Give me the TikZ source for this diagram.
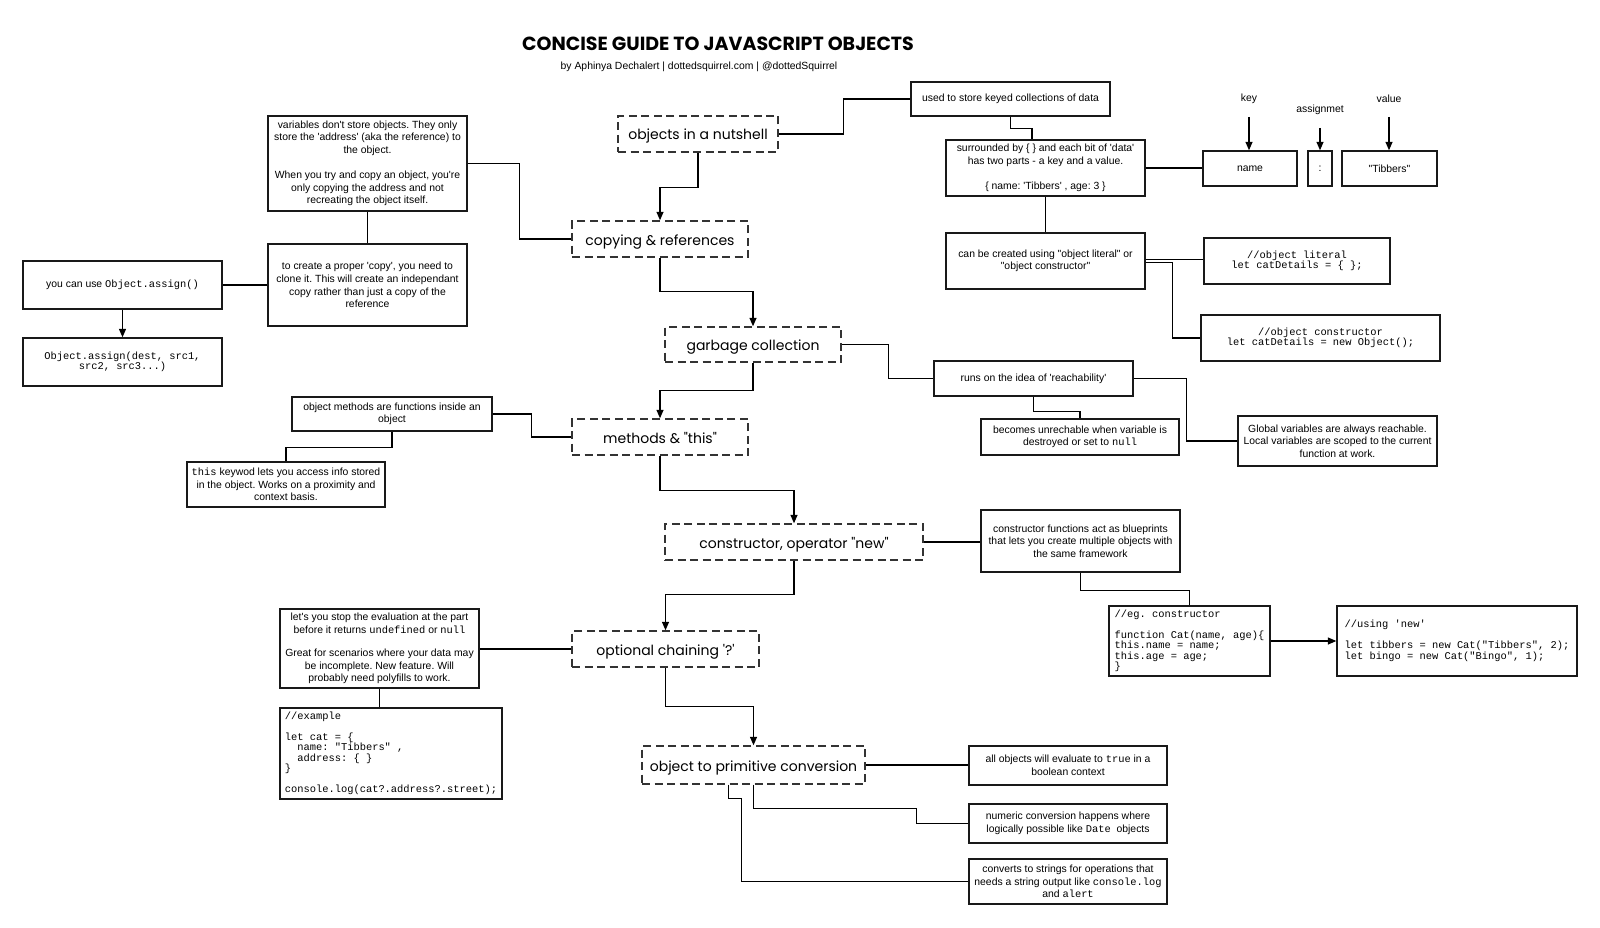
\documentclass[tikz,border=0pt]{standalone}
\usepackage{fontspec}
\setmainfont{Liberation Sans}[Ligatures=TeXOff]
\setmonofont{Liberation Mono}[Ligatures=TeXOff]
\newfontfamily\dashfont{Poppins}[Ligatures=TeXOff]
\newfontfamily\titlefont{Poppins}
\usetikzlibrary{arrows.meta}
\newcommand\mybody{\fontsize{10.4}{12.6}\selectfont}
\newcommand\mycode{\ttfamily\fontsize{10.4}{10.5}\selectfont}
\tikzset{
  box/.style={draw=black!90, line width=1.4pt, inner sep=2pt, align=center, font=\mybody},
  code/.style={box, font=\mycode},
  codel/.style={box, font=\mycode, align=left},
  dbox/.style={draw=black!80, line width=1.4pt, dash pattern=on 8pt off 4.5pt,
    font=\dashfont\fontsize{14}{16}\selectfont, inner sep=2pt, text height=12pt, text depth=0pt},
  conn/.style={line width=1.3pt},
  arr/.style={conn, -{Triangle[width=7pt,length=8.5pt]}},
  lbl/.style={font=\mybody, inner sep=0pt}
}
\begin{document}
\frenchspacing
\begin{tikzpicture}[x=1pt,y=-1pt]
\fill[white] (0,0) rectangle (1600,928);
\useasboundingbox (0,0) rectangle (1600,928);

% title
\node[font=\titlefont\bfseries\fontsize{19}{21}\selectfont] (title) at (718,44) {CONCISE GUIDE TO JAVASCRIPT OBJECTS};
\node[lbl] (sub) at (699,67) {by Aphinya Dechalert | dottedsquirrel.com | @dottedSquirrel};

% dashed main topics
\node[dbox, minimum width=160pt, minimum height=36pt] (nut) at (698,134) {objects in a nutshell};
\node[dbox, minimum width=176pt, minimum height=36pt] (copyref) at (660,239) {copying \& references};
\node[dbox, minimum width=176pt, minimum height=35pt] (gc) at (753,344.5) {garbage collection};
\node[dbox, minimum width=176pt, minimum height=36pt] (methods) at (660,437) {methods \& "this"};
\node[dbox, minimum width=258pt, minimum height=36pt] (ctorop) at (794,542) {constructor, operator "new"};
\node[dbox, minimum width=187pt, minimum height=36pt] (optional) at (665.5,649) {optional chaining '?'};
\node[dbox, minimum width=223pt, minimum height=38pt] (prim) at (753.5,765) {object to primitive conversion};

% nutshell branch
\node[box, minimum width=199pt, minimum height=34pt] (used) at (1010.5,99) {used to store keyed collections of data};
\node[box, minimum width=199pt, minimum height=56pt] (surr) at (1045.5,168) {surrounded by \{ \} and each bit of 'data'\\has two parts - a key and a value.\\[12.6pt]\{ name: 'Tibbers' , age: 3 \}};
\node[box, minimum width=94pt, minimum height=35pt] (name) at (1250,168.5) {name};
\node[box, minimum width=24pt, minimum height=35pt] (colon) at (1320,168.5) {:};
\node[box, minimum width=95pt, minimum height=35pt] (tib) at (1389.5,168.5) {"Tibbers"};
\node[lbl] (key) at (1249,99) {key};
\node[lbl] (asg) at (1320,110) {assignmet};
\node[lbl] (val) at (1389,99) {value};
\coordinate (keyA) at (1249,117);
\coordinate (asgA) at (1320,128);
\coordinate (valA) at (1389,117);
\node[box, minimum width=199pt, minimum height=56pt] (can) at (1045.5,261) {can be created using "object literal" or\\"object constructor"};
\node[code, minimum width=186pt, minimum height=46pt] (lit) at (1297,261) {//object literal\\let catDetails = \{ \};};
\node[code, minimum width=239pt, minimum height=46pt] (ctor) at (1320.5,338) {//object constructor\\let catDetails = new Object();};

% copying branch
\node[box, minimum width=199pt, minimum height=95pt] (vars) at (367.5,163.5) {variables don't store objects. They only\\store the 'address' (aka the reference) to\\the object.\\[12.6pt]When you try and copy an object, you're\\only copying the address and not\\recreating the object itself.};
\node[box, minimum width=199pt, minimum height=82pt] (copy) at (367.5,285) {to create a proper 'copy', you need to\\clone it. This will create an independant\\copy rather than just a copy of the\\reference};
\node[box, minimum width=199pt, minimum height=48pt] (assign) at (122.5,285) {you can use \texttt{Object.assign()}};
\node[code, minimum width=199pt, minimum height=48pt] (assigncode) at (122.5,362) {Object.assign(dest, src1,\\src2, src3...)};

% garbage branch
\node[box, minimum width=199pt, minimum height=35pt] (runs) at (1033.5,378.5) {runs on the idea of 'reachability'};
\node[box, minimum width=198pt, minimum height=36pt] (unreach) at (1080,437) {becomes unrechable when variable is\\destroyed or set to \texttt{null}};
\node[box, minimum width=199pt, minimum height=50pt] (global) at (1337.5,441) {Global variables are always reachable.\\Local variables are scoped to the current\\function at work.};

% methods branch
\node[box, minimum width=200pt, minimum height=34pt] (meth) at (392,414) {object methods are functions inside an\\object};
\node[box, minimum width=198pt, minimum height=45pt] (this) at (286,484.5) {\texttt{this} keywod lets you access info stored\\in the object. Works on a proximity and\\context basis.};

% constructor branch
\node[box, minimum width=199pt, minimum height=62pt] (cfun) at (1080.5,541) {constructor functions act as blueprints\\that lets you create multiple objects with\\the same framework};
\node[codel, minimum width=161pt, minimum height=70pt] (eg) at (1189.5,641) {//eg. constructor\\[10.5pt]function Cat(name, age)\{\\this.name = name;\\this.age = age;\\\}};
\node[codel, minimum width=240pt, minimum height=70pt] (usenew) at (1457,641) {//using 'new'\\[10.5pt]let tibbers = new Cat("Tibbers", 2);\\let bingo = new Cat("Bingo", 1);};

% optional chaining branch
\node[box, minimum width=199pt, minimum height=79pt] (stop) at (379.5,648.5) {let's you stop the evaluation at the part\\before it returns \texttt{undefined} or \texttt{null}\\[11pt]Great for scenarios where your data may\\be incomplete. New feature. Will\\probably need polyfills to work.};
\node[codel, minimum width=222pt, minimum height=91pt] (example) at (391,753.5) {//example\\[10.5pt]let cat = \{\\\hphantom{xx}name: "Tibbers" ,\\\hphantom{xx}address: \{ \}\\\}\\[10.5pt]console.log(cat?.address?.street);};

% primitive branch
\node[box, minimum width=198pt, minimum height=39pt] (allobj) at (1068,765.5) {all objects will evaluate to \texttt{true} in a\\boolean context};
\node[box, minimum width=198pt, minimum height=39pt] (numeric) at (1068,823.5) {numeric conversion happens where\\logically possible like \texttt{Date}\ \ objects};
\node[box, minimum width=198pt, minimum height=45pt] (strings) at (1068,881.5) {converts to strings for operations that\\needs a string output like \texttt{console.log}\\and \texttt{alert}};

% connectors
\draw[conn] (nut.east) -- ++(65,0) |- (used.west);
\draw[conn] (used.south) -- ++(0,12) -| ([xshift=-13.5pt]surr.north);
\draw[conn] (surr.east) -- (surr.east -| name.west);
\draw[arr] (keyA) -- (keyA |- name.north);
\draw[arr] (asgA) -- (asgA |- colon.north);
\draw[arr] (valA) -- (valA |- tib.north);
\draw[conn] (surr.south) -- (can.north);
\draw[conn] ([yshift=1.5pt]can.east) -- ([yshift=1.5pt]can.east -| lit.west);
\draw[conn] ([yshift=-1.5pt]can.east) -- ++(27,0) |- (ctor.west);
\draw[arr] (nut.south) -- ++(0,35) -| (copyref.north);
\draw[conn] (vars.east) -- ++(52,0) |- (copyref.west);
\draw[conn] (vars.south) -- (copy.north);
\draw[conn] (copy.west) -- (assign.east);
\draw[arr] (assign.south) -- (assigncode.north);
\draw[arr] (copyref.south) -- ++(0,34) -| (gc.north);
\draw[conn] (gc.east) -- ++(47,0) |- (runs.west);
\draw[conn] (runs.south) -- ++(0,15) -| (unreach.north);
\draw[conn] (runs.east) -- ++(53,0) |- (global.west);
\draw[arr] (gc.south) -- ++(0,28) -| (methods.north);
\draw[conn] (meth.east) -- ++(39,0) |- (methods.west);
\draw[conn] (meth.south) -- ++(0,16) -| (this.north);
\draw[arr] (methods.south) -- ++(0,35) -| (ctorop.north);
\draw[conn] (ctorop.east) -- (ctorop.east -| cfun.west);
\draw[conn] (cfun.south) -- ++(0,18) -| (eg.north);
\draw[arr] (eg.east) -- (usenew.west);
\draw[arr] (ctorop.south) -- ++(0,34) -| (optional.north);
\draw[conn] (optional.west) -- (optional.west -| stop.east);
\draw[conn] (stop.south) -- (stop.south |- example.north);
\draw[arr] (optional.south) -- ++(0,39) -| (prim.north);
\draw[conn] (prim.east) -- (prim.east -| allobj.west);
\draw[conn] (prim.south) -- ++(0,24) -- ++(163,0) |- (numeric.west);
\draw[conn] ([xshift=-25pt]prim.south) -- ++(0,14) -- ++(13,0) |- (strings.west);
\end{tikzpicture}
\end{document}
